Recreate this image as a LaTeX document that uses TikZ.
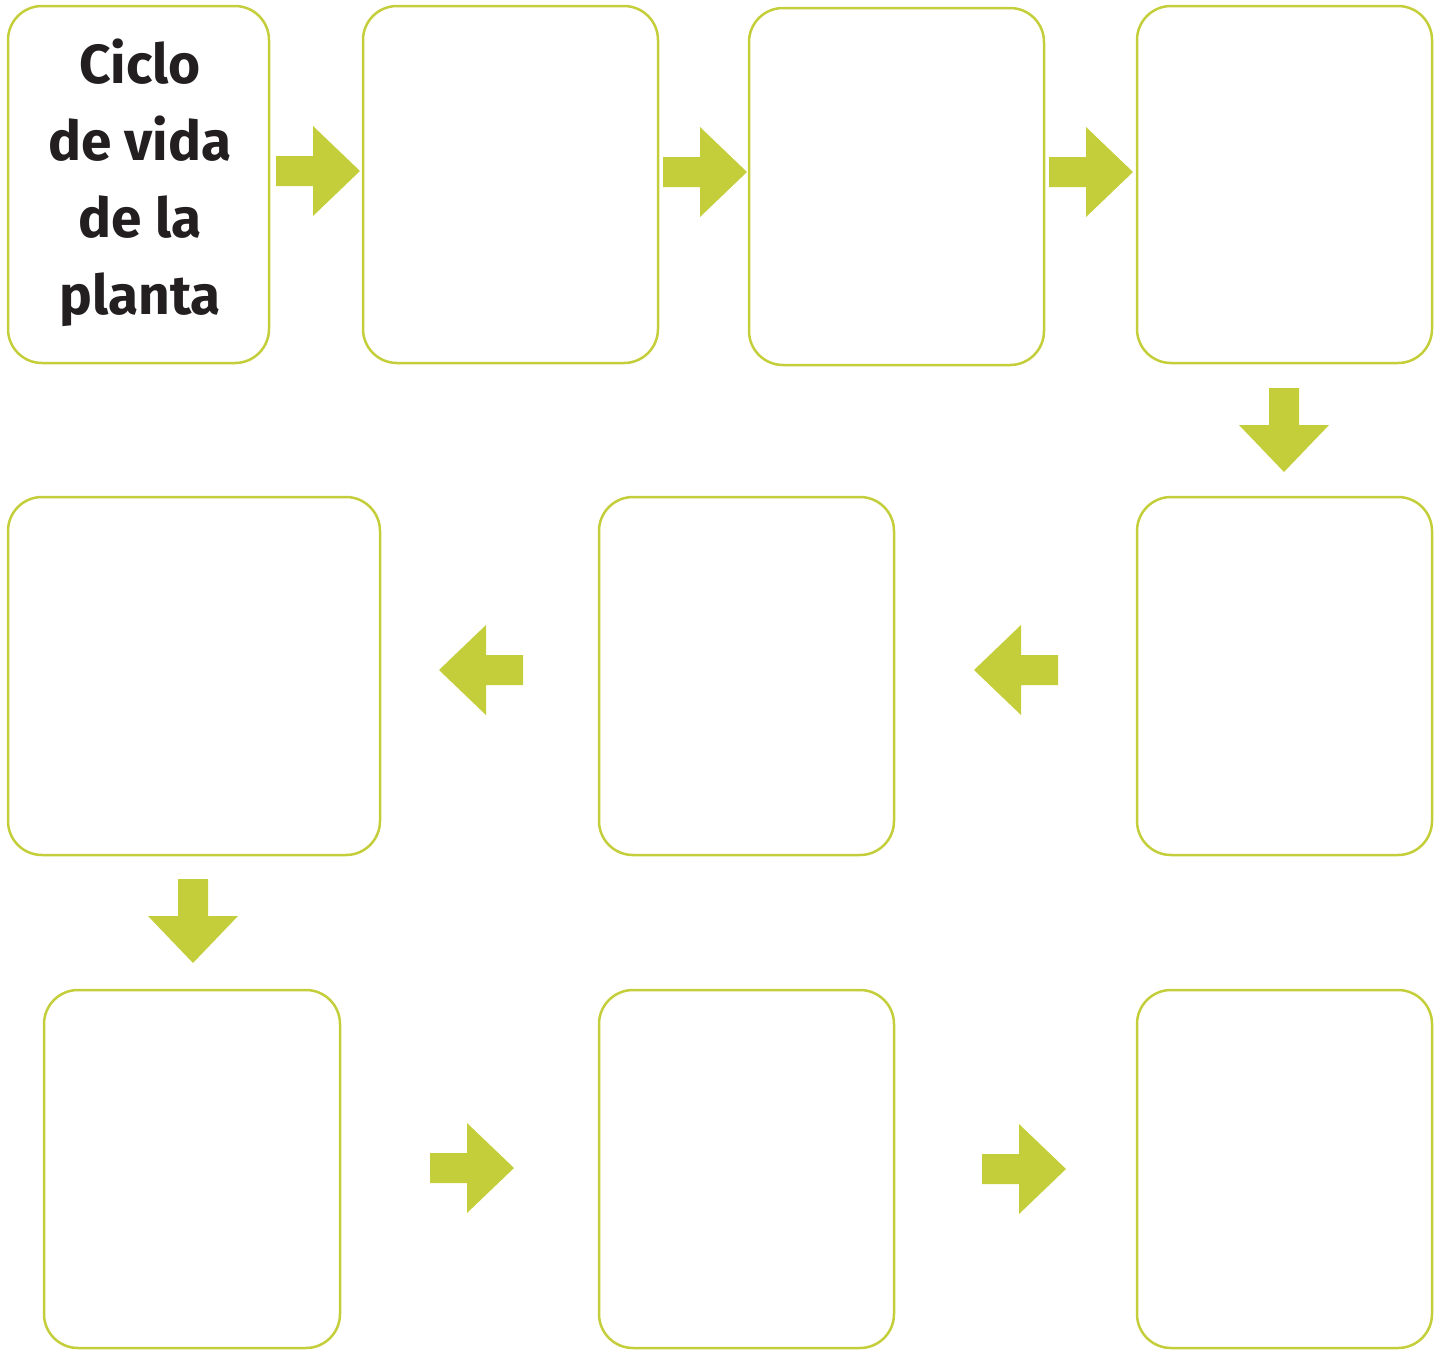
\documentclass[tikz,border=0pt]{standalone}
\usepackage{fontspec}
\setmainfont{Fira Sans}
\definecolor{lime}{HTML}{C4CE3A}
\definecolor{ink}{HTML}{231F20}
\tikzset{
  x=1pt, y=-1pt,
  card/.style={draw=lime, line width=2.5pt, rounded corners=34pt, fill=white, rectangle, inner sep=0pt, outer sep=0pt},
  barrow/.pic={\fill[lime] (0,-15)--(37,-15)--(37,-45)--(84,0)--(37,45)--(37,15)--(0,15)--cycle;}
}
\newcommand\cardat[5]{% name, x1, y1, x2, y2
  \node[card, minimum width={(#4)-(#2)}, minimum height={(#5)-(#3)}] (#1) at ({((#2)+(#4))/2},{((#3)+(#5))/2}) {};}
\begin{document}
\begin{tikzpicture}
\useasboundingbox (0,0) rectangle (1441,1350);
% row 1
\cardat{c1}{8}{6}{269}{363}
\cardat{c2}{363}{6}{658}{363}
\cardat{c3}{749}{8}{1044}{365}
\cardat{c4}{1137}{6}{1432}{363}
% row 2
\cardat{c5}{8}{497}{380}{855}
\cardat{c6}{599}{497}{894}{855}
\cardat{c7}{1137}{497}{1432}{855}
% row 3
\cardat{c8}{44}{990}{340}{1348}
\cardat{c9}{599}{990}{894}{1348}
\cardat{c10}{1137}{990}{1432}{1348}
% title
\node[text=ink, font=\fontsize{55}{77}\selectfont\bfseries, align=center, anchor=center] (title) at (140,183) {Ciclo\\de vida\\de la\\planta};
% arrows
\pic at (276,171) {barrow};
\pic at (663,172) {barrow};
\pic at (1049,172) {barrow};
\pic[rotate=-90] at (1284,388) {barrow};
\pic[rotate=180] at (523,670) {barrow};
\pic[rotate=180] at (1058,670) {barrow};
\pic[rotate=-90] at (193,879) {barrow};
\pic at (430,1168) {barrow};
\pic at (982,1169) {barrow};
\end{tikzpicture}
\end{document}
